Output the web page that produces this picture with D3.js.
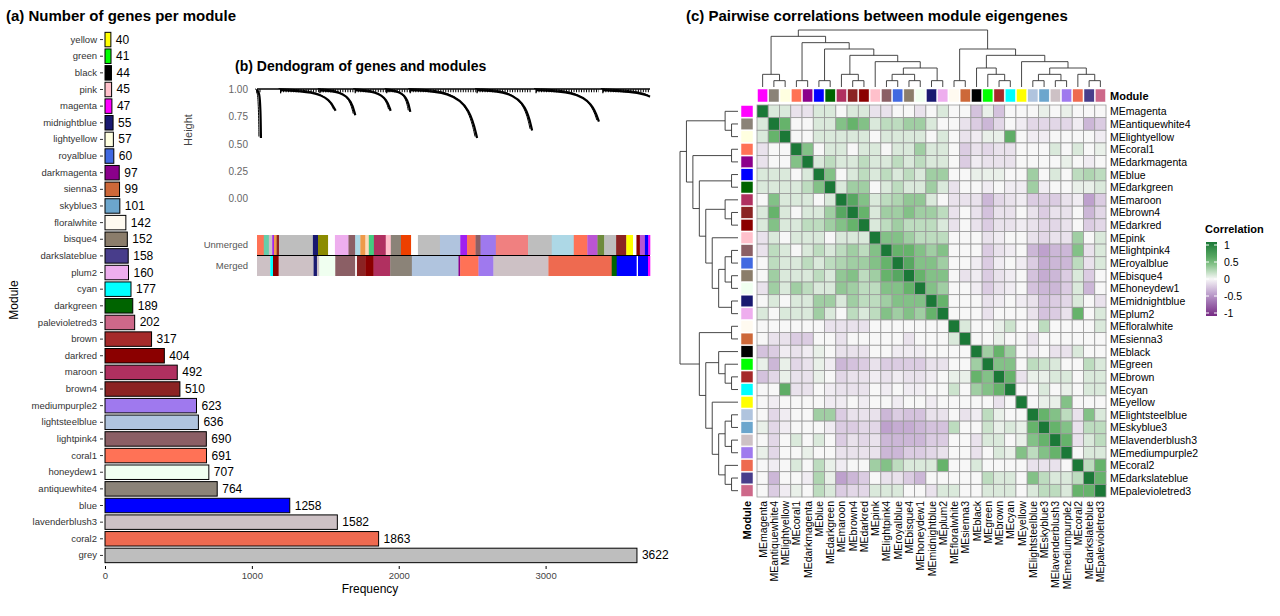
<!DOCTYPE html>
<html><head><meta charset="utf-8">
<script src="https://cdn.jsdelivr.net/npm/d3@7"></script>
<style>body{margin:0;background:#fff}text{font-family:"Liberation Sans",Arial,sans-serif}</style>
</head><body>
<svg id="c" width="1280" height="616"></svg>
<script>
// ---------- Panel (a) data ----------
const barModules = ["yellow","green","black","pink","magenta","midnightblue","lightyellow","royalblue","darkmagenta","sienna3","skyblue3","floralwhite","bisque4","darkslateblue","plum2","cyan","darkgreen","palevioletred3","brown","darkred","maroon","brown4","mediumpurple2","lightsteelblue","lightpink4","coral1","honeydew1","antiquewhite4","blue","lavenderblush3","coral2","grey"];
const barCounts = [40,41,44,45,47,55,57,60,97,99,101,142,152,158,160,177,189,202,317,404,492,510,623,636,690,691,707,764,1258,1582,1863,3622];
const xTicksA = [0,1000,2000,3000];
const rcol = {grey:"#bebebe",coral2:"#ee6a50",lavenderblush3:"#cdc1c5",blue:"#0000ff",antiquewhite4:"#8b8378",honeydew1:"#f0fff0",coral1:"#ff7256",lightpink4:"#8b5f65",lightsteelblue:"#b0c4de",mediumpurple2:"#9f79ee",brown4:"#8b2323",maroon:"#b03060",darkred:"#8b0000",brown:"#a52a2a",palevioletred3:"#cd6889",darkgreen:"#006400",cyan:"#00ffff",plum2:"#eeaeee",darkslateblue:"#483d8b",bisque4:"#8b7d6b",floralwhite:"#fffaf0",skyblue3:"#6ca6cd",sienna3:"#cd6839",darkmagenta:"#8b008b",royalblue:"#4169e1",lightyellow:"#ffffe0",midnightblue:"#191970",magenta:"#ff00ff",pink:"#ffc0cb",black:"#000000",green:"#00ff00",yellow:"#ffff00",olive:"#8b8b00",orange:"#ee9a49",teal:"#66cdaa",orchid:"#ba55d3",peach:"#ffdab9",darkolivegreen:"#6e8b3d",lightblue:"#add8e6",salmon:"#f08080",orangered:"#ee4000",purple:"#a020f0",sgreen:"#43cd80",white:"#ffffff"};

// ---------- Panel (b) data ----------
const bTicks = [0,0.25,0.5,0.75,1];
const clStart = [0.00,0.06,0.16,0.25,0.33,0.39,0.56,0.71,0.88];
const clEnd   = [0.01,0.20,0.25,0.34,0.39,0.56,0.70,0.87,1.00];
const clMin   = [0.55,0.80,0.76,0.80,0.79,0.55,0.62,0.70,0.93];
const unmergedCols = ["coral1","teal","lavenderblush3","purple","orange","brown4","grey","midnightblue","olive","white","plum2","lightpink4","lightblue","orange","peach","sgreen","maroon","pink","antiquewhite4","orangered","white","grey","lightsteelblue","purple","coral1","lightpink4","mediumpurple2","salmon","grey","lightblue","coral1","orchid","darkolivegreen","grey","brown4","yellow","white","darkred","orchid","blue","magenta"];
const unmergedW    = [20,15,10,5,8,7,100,15,30,20,40,20,15,15,10,15,35,15,30,30,20,65,60,20,25,15,45,95,70,65,40,30,20,35,30,20,10,10,15,10,5];
const mergedCols = ["lavenderblush3","cyan","darkred","lavenderblush3","midnightblue","lavenderblush3","honeydew1","lightpink4","white","brown4","darkred","maroon","antiquewhite4","lightsteelblue","darkmagenta","coral1","mediumpurple2","lavenderblush3","coral2","darkgreen","blue","white","blue","magenta"];
const mergedW    = [40,8,17,105,10,7,48,60,5,25,25,50,65,140,5,55,45,165,190,15,60,4,30,6];

// ---------- Panel (c) data ----------
const me = ["magenta","antiquewhite4","lightyellow","coral1","darkmagenta","blue","darkgreen","maroon","brown4","darkred","pink","lightpink4","royalblue","bisque4","honeydew1","midnightblue","plum2","floralwhite","sienna3","black","green","brown","cyan","yellow","lightsteelblue","skyblue3","lavenderblush3","mediumpurple2","coral2","darkslateblue","palevioletred3"];
const corTenths = [
[10,1,1,-1,-1,1,1,0,1,1,-1,-1,0,0,-1,0,1,0,0,-3,1,-3,0,0,0,1,0,1,0,0,0],
[1,10,5,0,0,1,1,4,5,4,1,2,2,3,3,1,0,0,-1,-3,-3,-2,0,-1,-2,-2,-2,-2,-1,-3,-2],
[1,5,10,0,0,1,1,1,1,1,0,1,1,1,1,0,1,0,-1,-1,1,0,6,0,-1,-1,0,0,0,0,-1],
[-1,0,0,10,4,0,1,1,0,1,1,0,1,1,3,1,1,0,-2,-1,-2,-1,-1,0,0,0,1,0,1,0,1],
[-1,0,0,4,10,1,2,1,1,2,1,1,2,1,2,1,1,0,-2,0,-1,-1,-1,0,0,0,0,1,0,-1,0],
[1,1,1,0,1,10,4,0,1,2,1,2,1,2,1,3,3,0,0,1,1,1,0,0,3,0,1,0,2,3,2],
[1,1,1,1,2,4,10,1,3,3,0,1,2,1,1,3,1,-1,0,0,-1,0,-1,0,3,-1,0,0,1,1,1],
[0,4,1,1,1,0,1,10,6,4,1,2,1,3,3,1,0,-1,-1,-1,-3,-2,-1,-1,-2,-2,-2,-1,-1,-4,-2],
[1,5,1,0,1,1,3,6,10,5,1,3,3,4,3,3,2,-1,0,-1,-3,-1,-1,0,-1,-2,-1,-1,0,-3,-1],
[1,4,1,1,2,2,3,4,5,10,1,2,3,2,2,2,1,-1,0,-1,-2,-1,-1,0,-1,-1,-1,-1,0,-2,-1],
[-1,1,0,1,1,1,0,1,1,1,10,4,4,3,2,2,2,0,0,0,-1,-1,0,0,-1,-2,-1,-1,3,0,1],
[-1,2,1,0,1,2,1,2,3,2,4,10,5,5,4,3,4,0,0,0,-2,-1,-1,0,-3,-4,-3,-3,4,-1,1],
[0,2,1,1,2,1,2,4,3,3,4,5,10,6,4,4,3,0,0,-1,-2,-1,0,-1,-2,-4,-3,-3,2,-1,1],
[0,3,1,1,1,2,1,4,4,2,3,5,6,10,5,4,4,0,-1,-1,-2,-1,-1,0,-2,-3,-3,-2,1,-2,0],
[-1,3,1,3,2,1,1,4,3,2,2,4,4,5,10,4,3,0,0,-1,-2,-1,-1,0,-2,-3,-3,-2,1,-3,0],
[0,1,0,1,1,3,3,1,3,2,2,3,4,4,4,10,5,0,0,0,-1,-1,0,0,-1,-3,-2,-2,1,0,-1],
[1,0,1,1,1,3,1,0,2,1,2,4,3,4,3,5,10,0,0,0,-1,0,0,0,-1,-3,-2,-1,5,0,1],
[0,0,0,0,0,0,-1,-1,-1,-1,0,0,0,0,0,0,0,10,1,0,0,1,2,0,0,2,0,0,0,0,1],
[0,-1,-1,-2,-2,0,0,-1,0,0,0,0,0,-1,0,0,0,1,10,0,0,1,0,0,-1,0,0,0,0,0,0],
[-2,-1,0,-1,-1,0,0,-1,-1,-1,0,0,0,0,0,0,0,0,0,10,3,5,3,0,-1,0,-1,-1,1,0,0],
[0,-3,0,-1,-1,0,0,-3,-2,-2,-1,-2,-2,-2,-2,-1,-1,0,0,3,10,4,4,0,2,1,1,0,0,2,1],
[-2,-1,1,-1,-1,0,0,-1,-1,-1,0,-1,0,-1,-1,0,0,0,0,5,4,10,5,-1,0,0,1,1,0,1,1],
[0,0,5,-1,-1,0,0,-1,-1,-1,0,0,0,0,0,0,0,1,0,3,4,5,10,0,0,1,0,1,0,1,1],
[0,0,0,0,0,0,-1,0,0,-1,0,0,0,0,0,-1,0,0,0,0,0,-1,0,10,0,1,0,4,0,0,0],
[0,-1,0,0,0,3,3,-2,-1,-1,-1,-3,-2,-3,-3,-1,-1,0,-1,0,2,1,0,0,10,5,4,2,-1,4,1],
[0,-1,0,0,0,0,0,-2,-2,-2,-1,-4,-3,-4,-3,-2,-2,2,0,0,2,1,1,0,5,10,5,4,-1,2,2],
[0,-1,0,1,0,1,0,-2,-1,-2,-1,-3,-3,-3,-3,-2,-2,0,0,-1,1,1,0,1,4,5,10,5,-1,1,2],
[0,-1,0,0,0,0,0,-1,-1,-1,-1,-3,-3,-2,-2,-1,-1,0,0,-1,0,1,0,4,2,4,5,10,0,1,1],
[0,0,0,1,0,2,0,0,0,0,3,4,2,1,1,1,5,0,0,1,0,0,0,0,-1,-1,-1,0,10,2,5],
[0,-3,0,0,0,2,0,-4,-3,-2,0,-1,-1,-2,-3,0,0,0,0,0,2,1,1,0,4,2,1,1,2,10,5],
[0,-2,0,0,0,2,1,-2,-2,-2,1,1,1,0,0,-1,1,1,0,0,1,1,1,0,1,2,2,1,5,5,10]];
const legendTicks = [1,0.5,0,-0.5,-1];
const treeA = [0,[1,2]];
const treeB = [[3,4],[[5,6],[[7,[8,9]],[10,[[[11,12],[13,14]],[15,16]]]]]];
const treeC = [[17,18],[[19,[20,[21,22]]],[23,[[[24,25],[26,27]],[28,[29,30]]]]]];
const tree = [[treeA,treeB],treeC];

// ---------- draw ----------
const svg = d3.select("#c");
const col = n => rcol[n];

// Panel a
svg.append("text").attr("x",6).attr("y",21).attr("font-size",15).attr("font-weight","bold").text("(a)  Number of genes per module");
const xa = d3.scaleLinear().domain([0,3000]).range([105,545.6]);
const ya = d3.scaleBand().domain(barModules).range([31,564]).paddingInner(0.13).paddingOuter(0.08);
const ga = svg.append("g");
ga.selectAll("rect").data(barModules).join("rect")
  .attr("x",xa(0)).attr("y",d=>ya(d)).attr("width",(d,i)=>xa(barCounts[i])-xa(0)).attr("height",ya.bandwidth())
  .attr("fill",d=>col(d)).attr("stroke","#000").attr("stroke-width",1);
ga.selectAll("text.v").data(barModules).join("text").attr("class","v")
  .attr("x",(d,i)=>xa(barCounts[i])+5).attr("y",d=>ya(d)+ya.bandwidth()/2+4).attr("font-size",12).text((d,i)=>barCounts[i]);
const yAxisA = svg.append("g").attr("transform","translate(103,0)").call(d3.axisLeft(ya).tickSize(3).tickSizeOuter(0));
yAxisA.select(".domain").remove();
yAxisA.selectAll("text").attr("font-size",9.5).attr("fill","#333");
yAxisA.selectAll("line").attr("stroke","#333");
const xAxisA = svg.append("g").attr("transform","translate(0,566)").call(d3.axisBottom(xa).tickValues(xTicksA).tickFormat(d3.format("d")).tickSize(3).tickSizeOuter(0));
xAxisA.select(".domain").remove();
xAxisA.selectAll("text").attr("font-size",9.5).attr("fill","#444");
svg.append("text").attr("x",370).attr("y",593).attr("text-anchor","middle").attr("font-size",12).text("Frequency");
svg.append("text").attr("transform","translate(18,300) rotate(-90)").attr("text-anchor","middle").attr("font-size",12).text("Module");

// Panel b
svg.append("text").attr("x",235).attr("y",71).attr("font-size",14).attr("font-weight","bold").text("(b) Dendogram of genes and modules");
const xb = d3.scaleLinear().domain([0,1]).range([257,650]);
const yb = d3.scaleLinear().domain([0,1]).range([198,89]);
const gb = svg.append("g");
bTicks.forEach(t=>gb.append("text").attr("x",248).attr("y",yb(t)+4).attr("text-anchor","end").attr("font-size",10).attr("fill","#666").text(t.toFixed(2)));
svg.append("text").attr("transform","translate(192,130) rotate(-90)").attr("text-anchor","middle").attr("font-size",11).attr("fill","#444").text("Height");
gb.append("line").attr("x1",xb(0)).attr("x2",xb(1)).attr("y1",yb(1)).attr("y2",yb(1)).attr("stroke","#000").attr("stroke-width",1.5);
clStart.forEach((s,i)=>{
  const e=clEnd[i], m=clMin[i];
  const cur = d3.line().curve(d3.curveBasis);
  const pts=[[xb(s),yb(0.99)],[xb(s+(e-s)*0.6),yb(0.975)],[xb(s+(e-s)*0.9),yb(0.96-(0.96-m)*0.35)],[xb(e),yb(m)]];
  gb.append("path").attr("d",cur(pts)).attr("fill","none").attr("stroke","#000").attr("stroke-width",2.2);
  gb.append("path").attr("d",cur(pts.map(p=>[p[0]-2,p[1]-1.5]))).attr("fill","none").attr("stroke","#000").attr("stroke-width",1);
  gb.append("line").attr("x1",xb(s)).attr("x2",xb(s)).attr("y1",yb(1)).attr("y2",yb(0.96)).attr("stroke","#000").attr("stroke-width",1.2);
  gb.append("path").attr("d",d3.line()([[xb(s),yb(0.985)],[xb(e),yb(0.985)]])).attr("stroke","#000").attr("stroke-width",3).attr("stroke-dasharray","1,1.5");
});
function colorBar(cols,ws,y0,h){
  const tot=d3.sum(ws), xs=d3.scaleLinear().domain([0,tot]).range([xb(0),xb(1)]);
  let acc=0;
  cols.forEach((c,i)=>{gb.append("rect").attr("x",xs(acc)).attr("y",y0).attr("width",xs(acc+ws[i])-xs(acc)+0.3).attr("height",h).attr("fill",col(c));acc+=ws[i];});
}
colorBar(unmergedCols,unmergedW,235,20);
colorBar(mergedCols,mergedW,256,20);
gb.append("line").attr("x1",xb(0)).attr("x2",xb(1)).attr("y1",255.5).attr("y2",255.5).attr("stroke","#000").attr("stroke-width",1.2);
gb.append("text").attr("x",248).attr("y",248).attr("text-anchor","end").attr("font-size",9.5).attr("fill","#555").text("Unmerged");
gb.append("text").attr("x",248).attr("y",269).attr("text-anchor","end").attr("font-size",9.5).attr("fill","#555").text("Merged");

// Panel c
svg.append("text").attr("x",686).attr("y",21).attr("font-size",15).attr("font-weight","bold").text("(c)  Pairwise correlations between module eigengenes");
const xc = d3.scaleBand().domain(d3.range(me.length)).range([757,1106]);
const yc = d3.scaleBand().domain(d3.range(me.length)).range([105,497]);
const cscale = d3.scaleLinear().domain([-1,-0.5,0,0.5,1]).range(["#762a83","#b08cc2","#f7f7f7","#66b36b","#1b7837"]);
const gc = svg.append("g");
const cells=[];
me.forEach((r,i)=>me.forEach((c,j)=>cells.push({i,j,v:(corTenths[i][j]+corTenths[j][i])/20})));
gc.selectAll("rect.cell").data(cells).join("rect").attr("class","cell")
  .attr("x",d=>xc(d.j)).attr("y",d=>yc(d.i)).attr("width",xc.bandwidth()).attr("height",yc.bandwidth())
  .attr("fill",d=>cscale(d.v)).attr("stroke","#9a9a9a").attr("stroke-width",0.8);
gc.selectAll("rect.ct").data(me).join("rect").attr("class","ct").attr("x",(d,i)=>xc(i)+0.5).attr("y",89).attr("width",xc.bandwidth()-1).attr("height",13).attr("fill",d=>col(d)).attr("stroke","#fff").attr("stroke-width",0.5);
gc.selectAll("rect.cl").data(me).join("rect").attr("class","cl").attr("x",741).attr("y",(d,i)=>yc(i)+0.5).attr("width",12).attr("height",yc.bandwidth()-1).attr("fill",d=>col(d)).attr("stroke","#fff").attr("stroke-width",0.5);
gc.selectAll("text.rl").data(me).join("text").attr("class","rl").attr("x",1110).attr("y",(d,i)=>yc(i)+yc.bandwidth()/2+4).attr("font-size",10.5).text(d=>"ME"+d);
gc.selectAll("text.cl").data(me).join("text").attr("class","cl")
  .attr("transform",(d,i)=>`translate(${xc(i)+xc.bandwidth()/2+4},501) rotate(-90)`).attr("text-anchor","end").attr("font-size",10.5).text(d=>"ME"+d);
svg.append("text").attr("x",1110).attr("y",100).attr("font-size",11).attr("font-weight","bold").text("Module");
svg.append("text").attr("transform","translate(751,501) rotate(-90)").attr("text-anchor","end").attr("font-size",11).attr("font-weight","bold").text("Module");
function toH(t){return Array.isArray(t)?{children:t.map(toH)}:{leaf:t};}
const root = d3.hierarchy(toH(tree));
root.eachAfter(n=>{n.h = n.children? d3.max(n.children,c=>c.h)+1 : 0; n.pos = n.children? d3.mean(n.children,c=>c.pos) : n.data.leaf;});
const maxH = root.h;
function drawTree(hScale,posScale,vertical){
  const p=d3.path();
  root.each(n=>{ if(!n.children) return;
    const hp=hScale(n.h);
    const ps=n.children.map(c=>posScale(c.pos));
    n.children.forEach((c,k)=>{
      if(vertical){p.moveTo(ps[k],hScale(c.h));p.lineTo(ps[k],hp);}
      else {p.moveTo(hScale(c.h),ps[k]);p.lineTo(hp,ps[k]);}
    });
    if(vertical){p.moveTo(d3.min(ps),hp);p.lineTo(d3.max(ps),hp);}
    else {p.moveTo(hp,d3.min(ps));p.lineTo(hp,d3.max(ps));}
  });
  svg.append("path").attr("d",p.toString()).attr("fill","none").attr("stroke","#333").attr("stroke-width",0.9);
}
const posX = d3.scaleLinear().domain([-0.5,me.length-0.5]).range([757,1106]);
const posY = d3.scaleLinear().domain([-0.5,me.length-0.5]).range([105,497]);
drawTree(d3.scaleLinear().domain([0,maxH]).range([87,30]), posX, true);
drawTree(d3.scaleLinear().domain([0,maxH]).range([738,680]), posY, false);
svg.append("text").attr("x",1205).attr("y",233).attr("font-size",11).attr("font-weight","bold").text("Correlation");
const defs=svg.append("defs"); const lg=defs.append("linearGradient").attr("id","lg").attr("x1",0).attr("x2",0).attr("y1",0).attr("y2",1);
d3.range(0,1.001,0.1).forEach(t=>lg.append("stop").attr("offset",t).attr("stop-color",cscale(1-2*t)));
const yl=d3.scaleLinear().domain([1,-1]).range([245,313]);
svg.append("rect").attr("x",1206).attr("y",yl(1)-3).attr("width",11).attr("height",yl(-1)-yl(1)+6).attr("fill","url(#lg)");
legendTicks.forEach(t=>{svg.append("text").attr("x",1224).attr("y",yl(t)+4).attr("font-size",10.5).text(t);
  svg.append("line").attr("x1",1206).attr("x2",1209).attr("y1",yl(t)).attr("y2",yl(t)).attr("stroke","#fff");
  svg.append("line").attr("x1",1214).attr("x2",1217).attr("y1",yl(t)).attr("y2",yl(t)).attr("stroke","#fff");});
</script></body></html>
